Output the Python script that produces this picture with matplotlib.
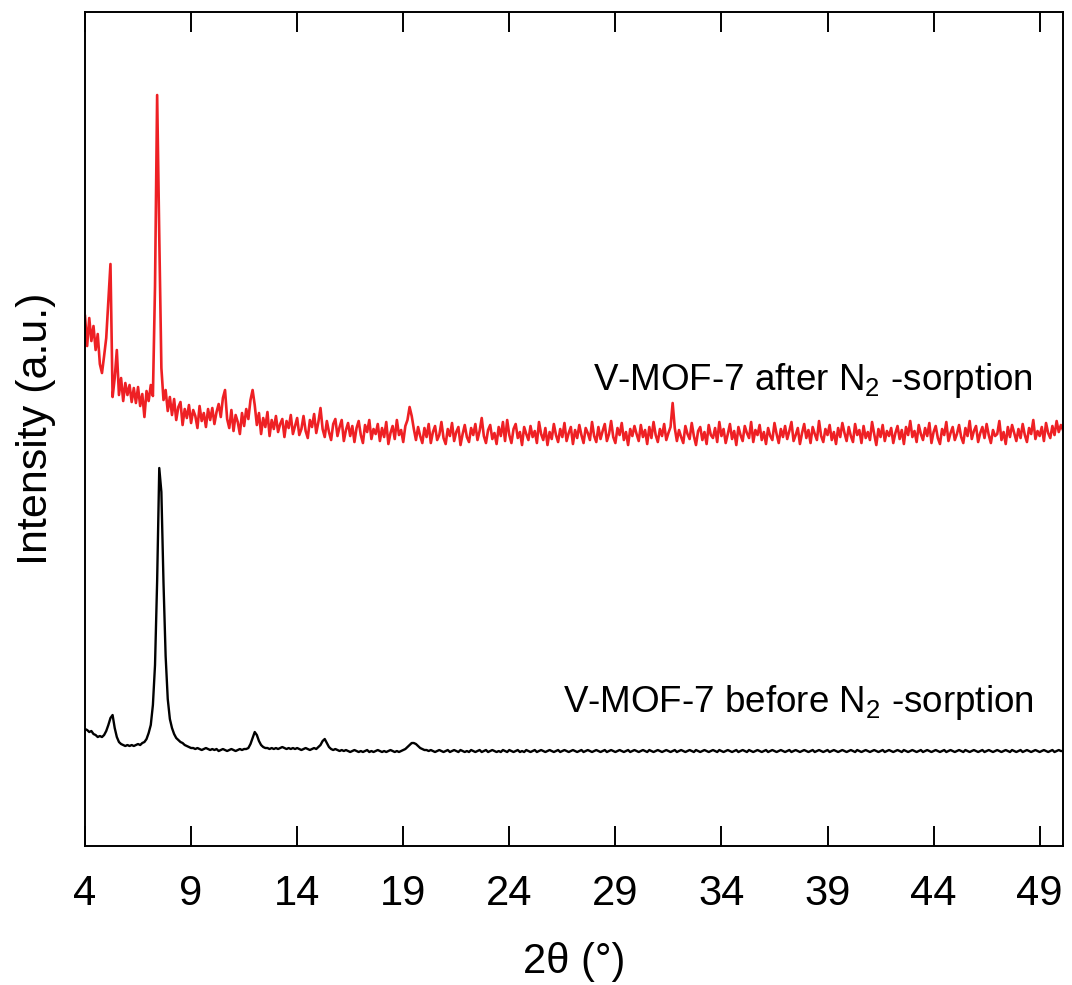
import numpy as np
import matplotlib
matplotlib.use("Agg")
from matplotlib import pyplot as plt

plt.rcParams["font.family"] = ["Liberation Sans", "DejaVu Sans"]
plt.rcParams["mathtext.fontset"] = "custom"
plt.rcParams["mathtext.rm"] = "Liberation Sans"
plt.rcParams["mathtext.it"] = "Liberation Sans:italic"

# 2theta grid starts at 4 deg, step 0.1 deg
two_theta_start = 4.0
two_theta_step = 0.1

# V-MOF-7 after N2-sorption (red), intensity in a.u., one row per degree
after_sorption = [
    530, 500, 528, 505, 520, 496, 512, 482, 473, 490,   # 4
    508, 545, 582, 449, 468, 496, 451, 468, 445, 463,   # 5
    451, 461, 444, 458, 443, 459, 440, 452, 429, 455,   # 6
    445, 461, 450, 560, 751, 610, 478, 446, 456, 435,   # 7
    449, 431, 447, 426, 439, 444, 421, 437, 428, 441,   # 8
    423, 436, 430, 418, 440, 425, 433, 419, 437, 426,   # 9
    438, 422, 434, 442, 429, 448, 456, 427, 418, 436,   # 10
    415, 431, 424, 412, 433, 420, 437, 427, 446, 456,   # 11
    441, 421, 433, 412, 428, 419, 434, 410, 426, 417,   # 12
    430, 414, 422, 427, 409, 425, 418, 431, 412, 420,   # 13
    428, 411, 417, 430, 415, 408, 426, 419, 432, 413,   # 14
    424, 438, 417, 409, 425, 414, 406, 422, 427, 410,   # 15
    419, 426, 405, 416, 423, 410, 420, 404, 418, 425,   # 16
    411, 403, 421, 414, 426, 407, 417, 412, 422, 405,   # 17
    418, 409, 424, 402, 413, 420, 407, 426, 411, 416,   # 18
    404, 420, 426, 439, 430, 417, 406, 419, 410, 403,   # 19
    418, 409, 422, 403, 414, 420, 406, 411, 424, 408,   # 20
    402, 417, 410, 423, 405, 414, 419, 401, 412, 421,   # 21
    409, 404, 418, 411, 422, 406, 415, 428, 410, 403,   # 22
    416, 421, 407, 413, 402, 419, 410, 424, 405, 426,   # 23
    411, 403, 417, 422, 408, 414, 401, 419, 412, 406,   # 24
    420, 409, 415, 403, 424, 412, 406, 418, 401, 414,   # 25
    407, 422, 411, 404, 417, 409, 423, 405, 413, 419,   # 26
    402, 416, 408, 421, 411, 403, 418, 413, 406, 424,   # 27
    410, 404, 419, 407, 415, 422, 405, 412, 425, 409,   # 28
    403, 418, 411, 423, 406, 414, 401, 417, 410, 420,   # 29
    412, 405, 421, 409, 416, 402, 419, 408, 424, 411,   # 30
    404, 417, 410, 422, 406, 413, 419, 443, 418, 405,   # 31
    416, 409, 403, 420, 412, 407, 423, 410, 401, 415,   # 32
    419, 406, 414, 402, 421, 411, 408, 418, 404, 424,   # 33
    410, 417, 403, 412, 422, 407, 415, 401, 419, 411,   # 34
    405, 420, 413, 408, 424, 404, 416, 411, 421, 406,   # 35
    414, 402, 418, 410, 406, 423, 412, 403, 417, 409,   # 36
    420, 407, 415, 424, 405, 411, 418, 402, 413, 422,   # 37
    408, 416, 403, 419, 412, 406, 425, 410, 404, 417,   # 38
    411, 421, 406, 414, 402, 418, 409, 423, 413, 405,   # 39
    419, 410, 404, 422, 411, 416, 403, 420, 408, 414,   # 40
    406, 424, 412, 401, 417, 409, 421, 405, 415, 410,   # 41
    418, 403, 413, 420, 407, 416, 402, 419, 411, 425,   # 42
    409, 415, 404, 421, 412, 406, 418, 410, 423, 403,   # 43
    414, 420, 408, 402, 417, 411, 424, 405, 413, 419,   # 44
    406, 412, 421, 409, 403, 418, 410, 425, 407, 415,   # 45
    420, 404, 413, 419, 408, 422, 411, 403, 416, 410,   # 46
    412, 425, 406, 414, 402, 419, 409, 421, 413, 405,   # 47
    417, 408, 422, 411, 404, 418, 412, 426, 407, 415,   # 48
    410, 419, 405, 423, 413, 408, 420, 411, 425, 414,   # 49
    421, 416,                                           # 50
]

# V-MOF-7 before N2-sorption (black)
before_sorption = [
    117, 116, 114, 115, 112, 111, 109, 110, 109, 111,   # 4
    115, 121, 128, 131, 118, 109, 104, 102, 101, 100,   # 5
    101, 100, 101, 100, 101, 102, 101, 103, 104, 107,   # 6
    113, 121, 141, 181, 265, 378, 354, 263, 190, 147,   # 7
    127, 118, 112, 108, 106, 104, 103, 101, 100, 99,    # 8
    98, 98, 97, 98, 97, 96, 97, 98, 97, 96,             # 9
    97, 96, 97, 95, 96, 97, 96, 95, 96, 97,             # 10
    96, 95, 96, 97, 96, 97, 97, 98, 102, 108,           # 11
    114, 111, 105, 101, 99, 98, 98, 97, 98, 97,         # 12
    98, 97, 98, 99, 98, 97, 98, 97, 98, 97,             # 13
    98, 97, 96, 97, 98, 97, 96, 97, 98, 97,             # 14
    99, 101, 105, 107, 103, 99, 97, 96, 97, 96,         # 15
    95, 96, 95, 96, 95, 94, 95, 96, 95, 94,             # 16
    95, 94, 95, 96, 94, 95, 94, 95, 96, 95,             # 17
    94, 95, 94, 95, 96, 95, 94, 95, 94, 95,             # 18
    96, 97, 99, 101, 103, 103, 102, 100, 98, 97,        # 19
    96, 96, 95, 96, 95, 94, 95, 96, 95, 94,             # 20
    95, 96, 94, 95, 96, 95, 94, 96, 95, 94,             # 21
    95, 94, 96, 95, 94, 95, 96, 94, 95, 96,             # 22
    94, 95, 96, 95, 94, 95, 94, 96, 95, 94,             # 23
    96, 95, 94, 95, 96, 94, 95, 94, 96, 95,             # 24
    94, 95, 96, 94, 95, 96, 95, 94, 95, 96,             # 25
    95, 94, 95, 96, 94, 95, 96, 95, 94, 95,             # 26
    96, 95, 94, 95, 96, 94, 95, 96, 95, 94,             # 27
    95, 96, 95, 94, 95, 96, 94, 95, 96, 95,             # 28
    94, 95, 96, 95, 94, 95, 96, 94, 95, 96,             # 29
    95, 94, 95, 96, 95, 94, 96, 95, 94, 95,             # 30
    96, 95, 94, 95, 96, 95, 94, 95, 96, 94,             # 31
    95, 96, 95, 94, 95, 96, 95, 94, 96, 95,             # 32
    94, 95, 96, 95, 94, 95, 96, 95, 94, 96,             # 33
    95, 94, 95, 96, 95, 94, 95, 96, 94, 95,             # 34
    96, 95, 94, 96, 95, 94, 95, 96, 95, 94,             # 35
    95, 96, 94, 95, 96, 95, 94, 95, 96, 95,             # 36
    94, 95, 96, 94, 95, 96, 95, 94, 95, 96,             # 37
    95, 94, 95, 96, 94, 95, 96, 95, 94, 95,             # 38
    96, 94, 95, 96, 95, 94, 95, 96, 95, 94,             # 39
    95, 96, 95, 94, 96, 95, 94, 95, 96, 95,             # 40
    94, 95, 96, 95, 94, 95, 96, 94, 95, 96,             # 41
    95, 94, 95, 96, 95, 94, 96, 95, 94, 95,             # 42
    96, 95, 94, 95, 96, 94, 95, 96, 95, 94,             # 43
    95, 96, 95, 94, 95, 96, 94, 95, 96, 95,             # 44
    94, 95, 96, 95, 94, 96, 95, 94, 95, 96,             # 45
    95, 94, 95, 96, 94, 95, 96, 95, 94, 95,             # 46
    96, 95, 94, 95, 96, 95, 94, 96, 95, 94,             # 47
    95, 96, 94, 95, 96, 95, 94, 95, 96, 95,             # 48
    94, 95, 96, 95, 94, 95, 96, 94, 95, 96,             # 49
    95, 95,                                             # 50
]

x_ticks = [4, 9, 14, 19, 24, 29, 34, 39, 44, 49]
label_after = "V-MOF-7 after N$_2$ -sorption"
label_before = "V-MOF-7 before N$_2$ -sorption"

x_after = two_theta_start + two_theta_step * np.arange(len(after_sorption))
x_before = two_theta_start + two_theta_step * np.arange(len(before_sorption))

fig = plt.figure(figsize=(10.72, 9.85), dpi=100)
ax = fig.add_axes([0.0793, 0.1411, 0.9123, 0.8467])

ax.plot(x_after, after_sorption, color="#ee2024", lw=1.9)
ax.plot(x_before, before_sorption, color="black", lw=1.7)

ax.text(48.67, 456, label_after, fontsize=26.5, ha="right", va="baseline")
ax.text(48.72, 134, label_before, fontsize=26.5, ha="right", va="baseline")

ax.set_xlim(4, 50.1)
ax.set_ylim(0, 834)
ax.set_xticks(x_ticks)
ax.set_yticks([])
ax.tick_params(axis="x", which="both", direction="in", top=True, length=14.4,
               width=1.4, labelsize=30, pad=20)
for spine in ax.spines.values():
    spine.set_linewidth(1.4)

ax.set_xlabel("2θ (°)", fontsize=30, labelpad=20)
ax.set_ylabel("Intensity (a.u.)", fontsize=31, labelpad=21)

fig.savefig("out.png", dpi=100)
